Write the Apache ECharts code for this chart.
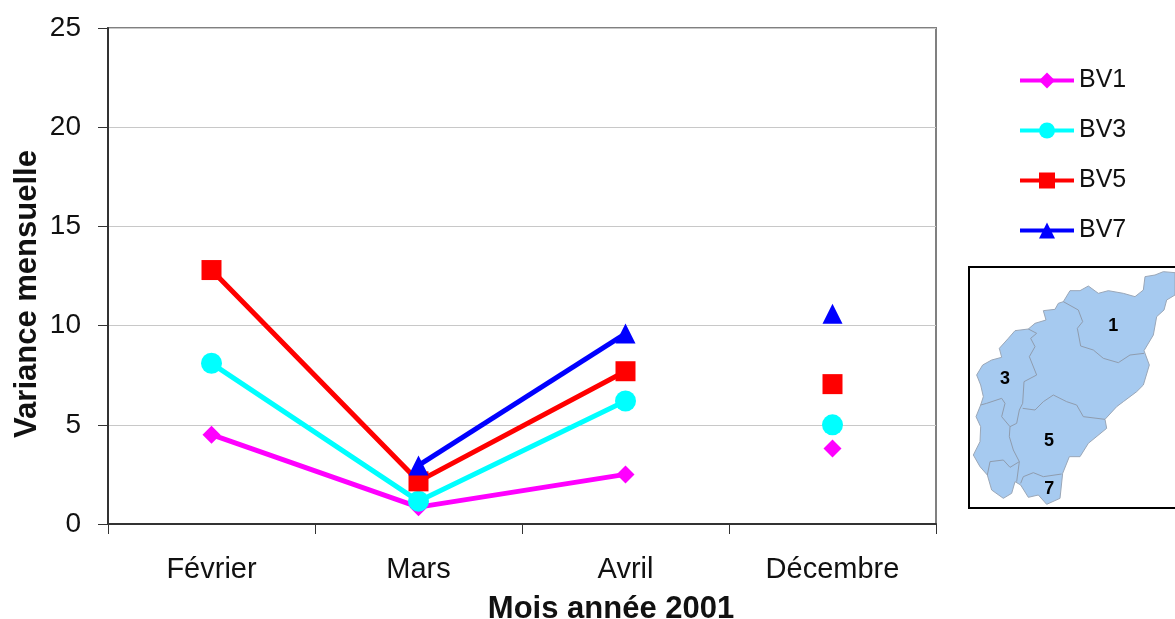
<!DOCTYPE html>
<html>
<head>
<meta charset="utf-8">
<title>Variance mensuelle</title>
<script src="https://cdn.jsdelivr.net/npm/echarts@6/dist/echarts.min.js"></script>
<style>
  html, body { margin: 0; padding: 0; background: #fff; }
  #chart { width: 1175px; height: 619px; }
</style>
</head>
<body>
<div id="chart"></div>
<script>
const months = ['Février', 'Mars', 'Avril', 'Décembre']
const bv1 = [4.5, 0.85, 2.5, 3.8]
const bv3 = [8.1, 1.15, 6.2, 5.0]
const bv5 = [12.8, 2.15, 7.7, 7.05]
const bv7 = [null, 2.95, 9.6, 10.6]

const seriesNames = ['BV1', 'BV3', 'BV5', 'BV7']
const seriesValues = [bv1, bv3, bv5, bv7]
const seriesColors = ['#ff00ff', '#00ffff', '#ff0000', '#0000ff']
const seriesSymbols = ['diamond', 'circle', 'rect', 'triangle']
const symbolSizes = [18, 21, 20, 20]

const FONT = '"Liberation Sans", Arial, sans-serif'

// bassin versant inset (zoomed crop coordinates)
const mapOutline = [[645,38],[610,35],[585,45],[555,50],[550,90],[525,110],[490,100],[445,92],[415,100],[385,78],[360,92],[330,92],[310,125],[295,130],[285,148],[250,152],[258,180],[225,190],[205,207],[165,212],[145,235],[118,265],[125,292],[95,300],[68,315],[50,345],[62,375],[70,410],[62,435],[48,470],[62,500],[60,545],[40,585],[60,620],[82,645],[95,690],[130,715],[155,700],[165,665],[182,675],[205,712],[235,705],[260,733],[300,715],[308,640],[328,590],[360,590],[385,550],[440,505],[435,478],[470,440],[490,425],[530,395],[550,375],[568,315],[552,272],[580,225],[590,170],[612,150],[620,120],[645,105]]
const mapBorders = [
  [[310,125],[355,150],[368,185],[352,205],[362,258],[400,270],[430,295],[475,308],[510,285],[552,280]],
  [[205,207],[230,220],[212,235],[225,260],[208,290],[230,345],[192,365],[188,430],[178,450],[170,490],[150,500],[125,470],[135,430],[125,415],[80,430],[62,435]],
  [[188,445],[225,450],[250,425],[280,405],[320,425],[350,435],[370,470],[435,478]],
  [[150,500],[148,530],[160,570],[178,605],[170,665]],
  [[182,670],[190,650],[220,638],[250,650],[305,642]],
  [[82,645],[90,605],[130,600],[150,622],[178,605]]
]
const mapLabels = [['1', 460, 198], ['3', 135, 358], ['5', 267, 542], ['7', 268, 686]]

const chart = echarts.init(document.getElementById('chart'))

// Avril -> Décembre is not joined in the original, so December is its own series
const lineSeries = seriesNames.map((name, i) => ({
  name,
  type: 'line',
  data: seriesValues[i].map((v, k) => (k < 3 ? v : null)),
  symbol: seriesSymbols[i],
  symbolSize: symbolSizes[i],
  showAllSymbol: true,
  itemStyle: { color: seriesColors[i] },
  lineStyle: { color: seriesColors[i], width: 5 }
}))
const decemberSeries = seriesNames.map((name, i) => ({
  name,
  type: 'line',
  data: seriesValues[i].map((v, k) => (k === 3 ? v : null)),
  symbol: seriesSymbols[i],
  symbolSize: symbolSizes[i],
  showAllSymbol: true,
  itemStyle: { color: seriesColors[i] },
  lineStyle: { color: seriesColors[i], width: 5 }
}))

const mapElements = [
  {
    type: 'polygon',
    shape: { points: mapOutline },
    style: { fill: '#a6caf0', stroke: '#9aa7b8', lineWidth: 3 }
  }
].concat(mapBorders.map(points => ({
  type: 'polyline',
  shape: { points },
  style: { fill: null, stroke: '#8f9cae', lineWidth: 3 }
}))).concat(mapLabels.map(([text, x, y]) => ({
  type: 'text',
  x,
  y,
  style: {
    text,
    fill: '#000',
    font: 'bold 54px ' + FONT,
    align: 'center',
    verticalAlign: 'middle'
  }
})))

chart.setOption({
  animation: false,
  backgroundColor: '#fff',
  textStyle: { fontFamily: FONT },
  grid: {
    left: 108,
    right: 239,
    top: 28,
    bottom: 95,
    show: true,
    borderColor: '#808080',
    borderWidth: 2
  },
  legend: {
    orient: 'vertical',
    left: 1018,
    top: 68,
    padding: 0,
    itemWidth: 54,
    itemHeight: 20,
    itemGap: 25,
    data: seriesNames,
    lineStyle: { width: 4 },
    textStyle: { fontSize: 25, color: '#111' }
  },
  xAxis: {
    type: 'category',
    data: months,
    boundaryGap: true,
    axisLine: { lineStyle: { color: '#333', width: 2 } },
    axisTick: { show: true, length: 10, alignWithLabel: false, lineStyle: { color: '#333', width: 1 } },
    axisLabel: { fontSize: 29, color: '#111', margin: 31, fontFamily: FONT }
  },
  yAxis: {
    type: 'value',
    min: 0,
    max: 25,
    interval: 5,
    axisLine: { show: true, lineStyle: { color: '#333', width: 2 } },
    axisTick: { show: true, length: 10, lineStyle: { color: '#333', width: 1 } },
    axisLabel: { fontSize: 28, color: '#111', margin: 27, padding: [4, 0, 0, 0], fontFamily: FONT },
    splitLine: { show: true, lineStyle: { color: '#c8c8c8', width: 1 } }
  },
  series: lineSeries.concat(decemberSeries),
  graphic: [
    {
      type: 'text',
      x: 27,
      y: 294,
      rotation: Math.PI / 2,
      style: {
        text: 'Variance mensuelle',
        fill: '#111',
        font: 'bold 31px ' + FONT,
        align: 'center',
        verticalAlign: 'middle'
      }
    },
    {
      type: 'text',
      x: 611,
      y: 609,
      style: {
        text: 'Mois année 2001',
        fill: '#111',
        font: 'bold 31px ' + FONT,
        align: 'center',
        verticalAlign: 'middle'
      }
    },
    {
      type: 'rect',
      shape: { x: 969, y: 267, width: 230, height: 241 },
      style: { fill: '#fff', stroke: '#000', lineWidth: 2 }
    },
    {
      type: 'group',
      x: 960,
      y: 260,
      scaleX: 1 / 3,
      scaleY: 1 / 3,
      children: mapElements
    }
  ]
})

window.addEventListener('resize', () => {
  chart.resize()
})
</script>
</body>
</html>
